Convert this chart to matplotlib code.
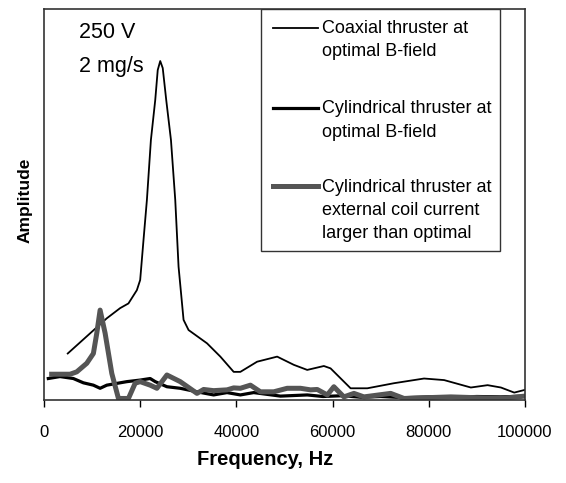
import matplotlib
matplotlib.use("Agg")
import matplotlib.pyplot as plt
from matplotlib.lines import Line2D
from matplotlib.patches import Rectangle

plt.rcParams["font.family"] = ["Liberation Sans", "DejaVu Sans"]

# coaxial thruster at optimal B-field (thin black)
coax_f = [4940, 13060, 15830, 17560, 19310, 20000, 20690, 21400, 22230, 23130, 23650,
          24170, 24690, 25420, 26400, 27290, 27980, 29020, 30060, 33900, 36670, 39440,
          40830, 44310, 48480, 51940, 54730, 58190, 59580, 63750, 67230, 72770, 79020,
          83190, 88750, 92230, 95000, 97770, 100000]
coax_a = [11.9, 20.9, 23.5, 24.7, 28.1, 30.7, 40.9, 51.2, 66.5, 76.7, 84.4,
          86.7, 84.9, 76.7, 66.5, 51.2, 34.1, 20.5, 17.9, 14.5, 11.1, 7.2,
          7.2, 9.8, 11.1, 9.0, 7.7, 8.7, 8.1, 3.0, 3.0, 4.3, 5.5,
          5.1, 3.2, 3.8, 3.2, 1.9, 2.6]

# cylindrical thruster at optimal B-field (thick black)
cyl_f = [900, 3330, 6100, 8190, 10270, 11670, 13060, 15830, 17230, 20000, 22080,
         23130, 25560, 28330, 31810, 35270, 38060, 40830, 43600, 49170, 54730,
         58000, 62000, 66000, 70000, 75000, 80000, 85000, 90000, 95000, 100000]
cyl_a = [5.5, 6.0, 5.5, 4.4, 3.8, 3.0, 3.8, 4.4, 4.7, 5.1, 5.5,
         4.7, 3.4, 3.0, 2.1, 1.3, 1.9, 1.3, 1.9, 1.0, 1.3,
         0.9, 1.1, 0.7, 0.9, 0.6, 0.8, 0.7, 0.9, 0.8, 1.0]

# cylindrical thruster, coil current larger than optimal (thick grey)
big_f = [1600, 5420, 6810, 8900, 10270, 10980, 11670, 12710, 14100, 15480, 17560,
         18960, 20000, 22080, 23480, 25560, 28330, 31810, 33190, 35270, 38060,
         39440, 40830, 42920, 45000, 47770, 50560, 53330, 55420, 56810, 58900,
         60270, 62350, 64440, 66520, 72080, 74850, 84580, 95000, 100000]
big_a = [6.6, 6.6, 7.2, 9.4, 11.9, 17.1, 23.0, 17.1, 6.8, 0.4, 0.4,
         4.3, 4.7, 3.8, 3.0, 6.4, 4.7, 1.7, 2.7, 2.4, 2.6,
         3.1, 3.0, 3.8, 2.1, 2.1, 3.0, 3.0, 2.6, 2.7, 1.3,
         3.4, 0.8, 1.7, 0.8, 1.7, 0.4, 0.8, 0.4, 1.0]

xticks = [0, 20000, 40000, 60000, 80000, 100000]

legend_lines = [
    ["Coaxial thruster at", "optimal B-field"],
    ["Cylindrical thruster at", "optimal B-field"],
    ["Cylindrical thruster at", "external coil current", "larger than optimal"],
]

fig = plt.figure(figsize=(5.66, 4.83), dpi=100)
ax = fig.add_axes([0.0777, 0.1718, 0.8498, 0.8095])

ax.plot(coax_f, coax_a, color="black", lw=1.3)
ax.plot(cyl_f, cyl_a, color="black", lw=2.3)
ax.plot(big_f, big_a, color="#555555", lw=3.6)

ax.set_xlim(0, 100000)
ax.set_ylim(0, 100)
ax.set_xticks(xticks)
ax.set_xticklabels([str(t) for t in xticks])
ax.set_yticks([])
ax.tick_params(axis="x", direction="out", length=5, width=1, pad=13, labelsize=12)
for s in ax.spines.values():
    s.set_color("#333333")
    s.set_linewidth(1.2)

ax.set_xlabel("Frequency, Hz", fontsize=14.5, fontweight="bold")
ax.xaxis.set_label_coords(0.459, -0.128)
ax.set_ylabel("Amplitude", fontsize=12.5, fontweight="bold")
ax.yaxis.set_label_coords(-0.023, 0.512)

ax.text(0.073, 0.926, "250 V", transform=ax.transAxes, fontsize=15.5, va="baseline")
ax.text(0.073, 0.839, "2 mg/s", transform=ax.transAxes, fontsize=15.5, va="baseline")

# legend box drawn by hand so handles sit on the first text line
ax.add_patch(Rectangle((0.451, 0.381), 0.497, 0.619, transform=ax.transAxes,
                       facecolor="white", edgecolor="#333333", lw=1.0, zorder=3))
handle_y = [0.951, 0.748, 0.548]
handle_w = [1.3, 2.3, 3.6]
handle_c = ["black", "black", "#555555"]
base_y = [[0.939, 0.88], [0.734, 0.673], [0.532, 0.473, 0.414]]
for i, lines in enumerate(legend_lines):
    ax.add_line(Line2D([0.476, 0.570], [handle_y[i]] * 2, transform=ax.transAxes,
                       color=handle_c[i], lw=handle_w[i], zorder=4))
    for txt, yb in zip(lines, base_y[i]):
        ax.text(0.578, yb, txt, transform=ax.transAxes, fontsize=13,
                va="baseline", zorder=4)

fig.savefig("out.png", dpi=100)
plt.close(fig)
